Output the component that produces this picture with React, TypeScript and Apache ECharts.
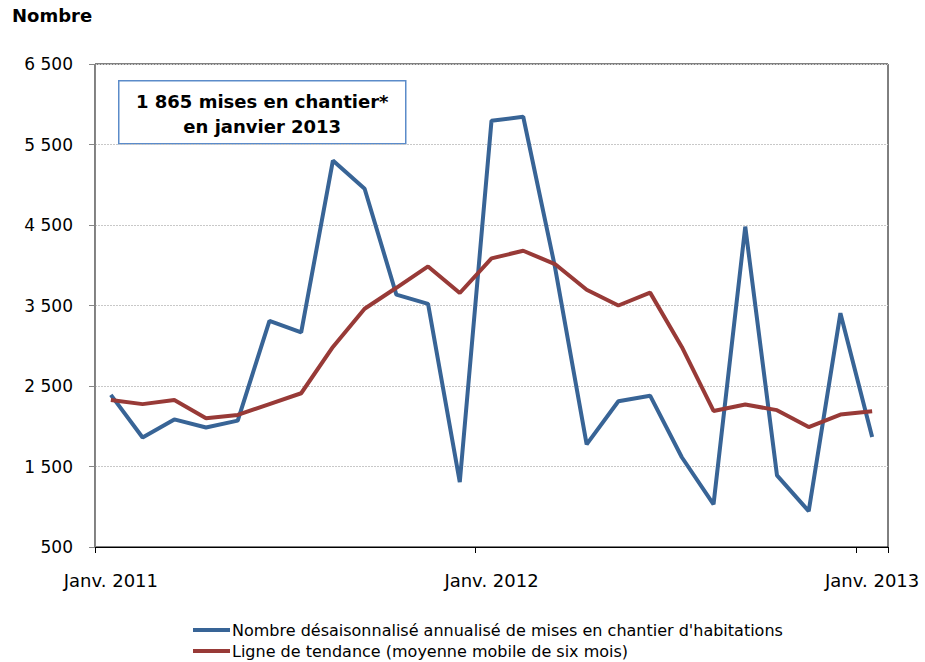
import React, { useEffect, useRef } from 'react';
import * as echarts from 'echarts';

const categories = [
  'Janv. 2011', 'Févr. 2011', 'Mars 2011', 'Avr. 2011', 'Mai 2011', 'Juin 2011',
  'Juil. 2011', 'Août 2011', 'Sept. 2011', 'Oct. 2011', 'Nov. 2011', 'Déc. 2011',
  'Janv. 2012', 'Févr. 2012', 'Mars 2012', 'Avr. 2012', 'Mai 2012', 'Juin 2012',
  'Juil. 2012', 'Août 2012', 'Sept. 2012', 'Oct. 2012', 'Nov. 2012', 'Déc. 2012',
  'Janv. 2013',
];

const misesEnChantier = [
  2390, 1860, 2085, 1985, 2070, 3310, 3165, 5300, 4950, 3635, 3520, 1305,
  5795, 5845, 3980, 1775, 2310, 2380, 1615, 1030, 4480, 1390, 945, 3405,
  1865,
];

const ligneTendance = [
  2325, 2275, 2325, 2100, 2140, 2275, 2410, 2985, 3460, 3720, 3985, 3655,
  4085, 4180, 4015, 3695, 3500, 3660, 2985, 2190, 2270, 2200, 1990, 2145,
  2185,
];

const yTicks = [500, 1500, 2500, 3500, 4500, 5500, 6500];

const seriesNames = [
  "Nombre désaisonnalisé annualisé de mises en chantier d'habitations",
  'Ligne de tendance (moyenne mobile de six mois)',
];

const annotationLines = ['1 865 mises en chantier*', 'en janvier 2013'];

const FONT = "'DejaVu Sans', 'Liberation Sans', Arial, sans-serif";
const BLUE = '#386496';
const RED = '#983A37';

const fmt = (v: number) => String(v).replace(/\B(?=(\d{3})+(?!\d))/g, ' ');

export default function App() {
  const ref = useRef<HTMLDivElement>(null);

  useEffect(() => {
    if (!ref.current) return;
    const chart = echarts.init(ref.current, undefined, { renderer: 'svg' });
    chart.setOption({
      animation: false,
      backgroundColor: '#fff',
      textStyle: { fontFamily: FONT },
      title: {
        text: 'Nombre',
        left: 8,
        top: 6,
        padding: [0, 4, 0, 4],
        textStyle: { fontFamily: FONT, fontSize: 18, fontWeight: 'bold', color: '#000' },
      },
      grid: {
        left: 95,
        right: 37,
        top: 64,
        bottom: 115,
        show: true,
        borderColor: '#000',
        borderWidth: 1,
        backgroundColor: 'transparent',
      },
      legend: {
        orient: 'vertical',
        left: 193,
        top: 622,
        height: 200,
        itemWidth: 37,
        itemHeight: 4,
        itemGap: 5,
        icon: 'rect',
        padding: 0,
        textStyle: { fontFamily: FONT, fontSize: 16, color: '#000', padding: [0, 0, 0, -3] },
        data: seriesNames,
      },
      xAxis: {
        type: 'category',
        data: categories,
        boundaryGap: true,
        axisLine: { lineStyle: { color: '#000', width: 1 } },
        axisTick: { show: true, interval: 11, length: 6, lineStyle: { color: '#000' } },
        axisLabel: { interval: 11, margin: 24, fontSize: 18, color: '#000', fontFamily: FONT },
        splitLine: { show: false },
      },
      yAxis: {
        type: 'value',
        min: 500,
        max: 6500,
        interval: 500,
        axisLine: { show: true, lineStyle: { color: '#868686', width: 1 } },
        axisTick: { show: true, length: 6, lineStyle: { color: '#868686' }, customValues: yTicks },
        axisLabel: {
          customValues: yTicks,
          margin: 22,
          fontSize: 17,
          color: '#000',
          fontFamily: FONT,
          formatter: (v: number) => fmt(v),
        },
        splitLine: { show: true, lineStyle: { color: '#c8c8c8', type: [2, 1], width: 1 } },
      },
      series: [
        {
          name: seriesNames[0],
          type: 'line',
          data: misesEnChantier,
          symbol: 'none',
          lineStyle: { color: BLUE, width: 4 },
          itemStyle: { color: BLUE },
        },
        {
          name: seriesNames[1],
          type: 'line',
          data: ligneTendance,
          symbol: 'none',
          lineStyle: { color: RED, width: 4 },
          itemStyle: { color: RED },
        },
      ],
      graphic: [
        {
          type: 'group',
          left: 118,
          top: 80,
          children: [
            {
              type: 'rect',
              shape: { x: 0, y: 0, width: 287, height: 63 },
              style: { fill: '#fff', stroke: '#5B8BC9', lineWidth: 1.5 },
            },
            {
              type: 'text',
              x: 143.5,
              y: 21,
              style: {
                text: annotationLines[0],
                fontFamily: FONT,
                fontSize: 18,
                fontWeight: 'bold',
                fill: '#000',
                align: 'center',
                verticalAlign: 'middle',
              },
            },
            {
              type: 'text',
              x: 143.5,
              y: 46,
              style: {
                text: annotationLines[1],
                fontFamily: FONT,
                fontSize: 18,
                fontWeight: 'bold',
                fill: '#000',
                align: 'center',
                verticalAlign: 'middle',
              },
            },
          ],
        },
      ],
    });
    return () => chart.dispose();
  }, []);

  return <div ref={ref} style={{ position: 'absolute', left: 0, top: 0, width: 925, height: 662 }} />;
}
